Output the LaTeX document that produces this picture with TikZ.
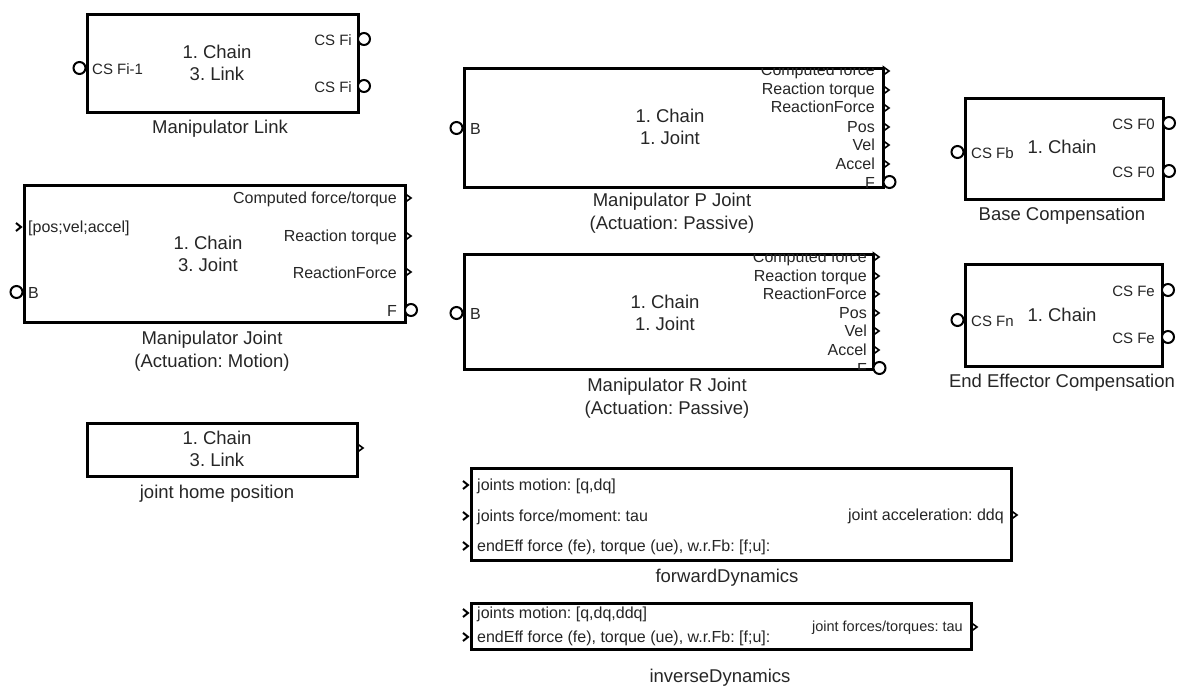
\documentclass[tikz,border=0pt]{standalone}
\usepackage{fontspec}
\setmainfont{Liberation Sans}
\frenchspacing
\usetikzlibrary{positioning}
\tikzset{
    blockbox/.style={draw=black, fill=white, line width=2.8pt, inner sep=0pt},
    blocktitle/.style={align=center, inner sep=0pt, text=black!85, font=\fontsize{18.5}{22}\selectfont},
    capt/.style={align=center, inner sep=0pt, text=black!85, font=\fontsize{18.5}{23}\selectfont},
    portlabel/.style={inner sep=0pt, text=black!85, font=\fontsize{16}{18}\selectfont},
    cslabel/.style={inner sep=0pt, text=black!85, font=\fontsize{15}{18}\selectfont},
    cport/.style={circle, draw=black, fill=white, line width=2pt, minimum size=12pt, inner sep=0pt},
    oport/.style={draw=black, line width=1.6pt, line join=miter},
    iport/.style={draw=black, line width=2pt, line join=miter}
}

\begin{document}
\begin{tikzpicture}[x=1pt, y=-1pt]
        \useasboundingbox (0,0) rectangle (1179,693);

        % -----------------------------------------------------------------
        % MANIPULATOR LINK
        % -----------------------------------------------------------------
        \node[blockbox, minimum width=271pt, minimum height=98pt, anchor=north west] (link) at (86,13) {};
        \node[blocktitle] (link-t) at (217,63) {1. Chain\\3. Link};
        \node[capt] (link-c) at (220,129) {Manipulator Link};
        \node[cport] (link-b) at (79.5,68) {};
        \node[cslabel, anchor=west] (link-bl) at (92,69) {CS Fi-1};
        \foreach \y in {39,86} {
            \node[cport] (link-f\y) at (364,\y) {};
            \node[cslabel, anchor=east] (link-fl\y) at (352,\y+1) {CS Fi};
        }

        % -----------------------------------------------------------------
        % MANIPULATOR JOINT
        % -----------------------------------------------------------------
        \node[blockbox, minimum width=381pt, minimum height=137pt, anchor=north west] (joint) at (23,184) {};
        \node[blocktitle] (joint-t) at (208,254) {1. Chain\\3. Joint};
        \node[capt] (joint-c) at (212,351) {Manipulator Joint\\(Actuation: Motion)};
        \draw[iport] (16,223) -- (21,227) -- (16,231);
        \node[portlabel, anchor=west] (joint-in) at (28,228) {[pos;vel;accel]};
        \node[cport] (joint-b) at (16.5,292) {};
        \node[portlabel, anchor=west] (joint-bl) at (28,293) {B};
        \foreach \y/\txt in {198/{Computed force/torque}, 236/{Reaction torque}, 272/{ReactionForce}} {
            \draw[oport] (405.5,\y-4) -- (411,\y) -- (405.5,\y+4) -- cycle;
            \node[portlabel, anchor=east] (joint-o\y) at (397,\y+1) {\txt};
        }
        \node[cport] (joint-f) at (411,310) {};
        \node[portlabel, anchor=east] (joint-fl) at (397,311) {F};

        % -----------------------------------------------------------------
        % MANIPULATOR P JOINT
        % -----------------------------------------------------------------
        \node[blockbox, minimum width=419pt, minimum height=119pt, anchor=north west] (pj) at (463,67) {};
        \node[blocktitle] (pj-t) at (670,126.5) {1. Chain\\1. Joint};
        \node[capt] (pj-c) at (672,213.5) {Manipulator P Joint\\(Actuation: Passive)};
        \node[cport] (pj-b) at (456.5,128) {};
        \node[portlabel, anchor=west] (pj-bl) at (470,129) {B};
        \begin{scope}
            \clip ([shift={(1.4,1.4)}]pj.north west) rectangle ([shift={(-1.4,-1.4)}]pj.south east);
            \foreach \y/\txt in {76/{Computed force}, 95/{Reaction torque}, 113/{ReactionForce}, 132/{Pos}, 150/{Vel}, 169/{Accel}, 188/{F}}
                \node[portlabel, anchor=base east] (pj-o\y) at (875,\y) {\txt};
        \end{scope}
        \foreach \y in {71,90,108,127,145,164}
            \draw[oport] (883.5,\y-4) -- (889,\y) -- (883.5,\y+4) -- cycle;
        \node[cport] (pj-f) at (889.5,182) {};

        % -----------------------------------------------------------------
        % MANIPULATOR R JOINT
        % -----------------------------------------------------------------
        \node[blockbox, minimum width=409pt, minimum height=115pt, anchor=north west] (rj) at (463,253) {};
        \node[blocktitle] (rj-t) at (665,313) {1. Chain\\1. Joint};
        \node[capt] (rj-c) at (667,398.5) {Manipulator R Joint\\(Actuation: Passive)};
        \node[cport] (rj-b) at (456.5,313) {};
        \node[portlabel, anchor=west] (rj-bl) at (470,314) {B};
        \begin{scope}
            \clip ([shift={(1.4,1.4)}]rj.north west) rectangle ([shift={(-1.4,-1.4)}]rj.south east);
            \foreach \y/\txt in {262/{Computed force}, 281/{Reaction torque}, 299/{ReactionForce}, 318/{Pos}, 336/{Vel}, 355/{Accel}, 374/{F}}
                \node[portlabel, anchor=base east] (rj-o\y) at (867,\y) {\txt};
        \end{scope}
        \foreach \y in {257,276,294,313,331,350}
            \draw[oport] (873.5,\y-4) -- (879,\y) -- (873.5,\y+4) -- cycle;
        \node[cport] (rj-f) at (879.5,368) {};

        % -----------------------------------------------------------------
        % BASE COMPENSATION
        % -----------------------------------------------------------------
        \node[blockbox, minimum width=198pt, minimum height=101pt, anchor=north west] (base) at (964,97) {};
        \node[blocktitle] (base-t) at (1062,147) {1. Chain};
        \node[capt] (base-c) at (1062,216) {Base Compensation};
        \node[cport] (base-b) at (957.5,152) {};
        \node[cslabel, anchor=west] (base-bl) at (971,153) {CS Fb};
        \foreach \y in {123,171} {
            \node[cport] (base-f\y) at (1169,\y) {};
            \node[cslabel, anchor=east] (base-fl\y) at (1155,\y+1) {CS F0};
        }

        % -----------------------------------------------------------------
        % END EFFECTOR COMPENSATION
        % -----------------------------------------------------------------
        \node[blockbox, minimum width=197pt, minimum height=102pt, anchor=north west] (eff) at (964,263) {};
        \node[blocktitle] (eff-t) at (1062,315) {1. Chain};
        \node[capt] (eff-c) at (1062,383) {End Effector Compensation};
        \node[cport] (eff-b) at (957.5,320) {};
        \node[cslabel, anchor=west] (eff-bl) at (971,321) {CS Fn};
        \foreach \y in {290,337} {
            \node[cport] (eff-f\y) at (1168,\y) {};
            \node[cslabel, anchor=east] (eff-fl\y) at (1155,\y+1) {CS Fe};
        }

        % -----------------------------------------------------------------
        % JOINT HOME POSITION
        % -----------------------------------------------------------------
        \node[blockbox, minimum width=270pt, minimum height=53pt, anchor=north west] (home) at (86,422) {};
        \node[blocktitle] (home-t) at (217,449) {1. Chain\\3. Link};
        \node[capt] (home-c) at (217,494) {joint home position};
        \draw[oport] (357.5,444) -- (363,448) -- (357.5,452) -- cycle;

        % -----------------------------------------------------------------
        % FORWARD DYNAMICS
        % -----------------------------------------------------------------
        \node[blockbox, minimum width=540pt, minimum height=92pt, anchor=north west] (fwd) at (470,467) {};
        \node[capt] (fwd-c) at (727,578) {forwardDynamics};
        \foreach \y/\txt in {485/{joints motion: [q,dq]}, 516/{joints force/moment: tau}, 546/{endEff force (fe), torque (ue), w.r.Fb: [f;u]:}} {
            \draw[iport] (463,\y-4) -- (468,\y) -- (463,\y+4);
            \node[portlabel, anchor=west] (fwd-i\y) at (477,\y+1) {\txt};
        }
        \draw[oport] (1011.5,511) -- (1017,515) -- (1011.5,519) -- cycle;
        \node[portlabel, anchor=east] (fwd-o) at (1004,516) {joint acceleration: ddq};

        % -----------------------------------------------------------------
        % INVERSE DYNAMICS
        % -----------------------------------------------------------------
        \node[blockbox, minimum width=500pt, minimum height=46pt, anchor=north west] (inv) at (470,602) {};
        \node[capt] (inv-c) at (720,678) {inverseDynamics};
        \foreach \y/\txt in {613/{joints motion: [q,dq,ddq]}, 637/{endEff force (fe), torque (ue), w.r.Fb: [f;u]:}} {
            \draw[iport] (463,\y-4) -- (468,\y) -- (463,\y+4);
            \node[portlabel, anchor=west] (inv-i\y) at (477,\y+1) {\txt};
        }
        \draw[oport] (971.5,623) -- (977,627) -- (971.5,631) -- cycle;
        \node[portlabel, anchor=east, font=\fontsize{14.5}{18}\selectfont] (inv-o) at (963,628) {joint forces/torques: tau};

\end{tikzpicture}
\end{document}
